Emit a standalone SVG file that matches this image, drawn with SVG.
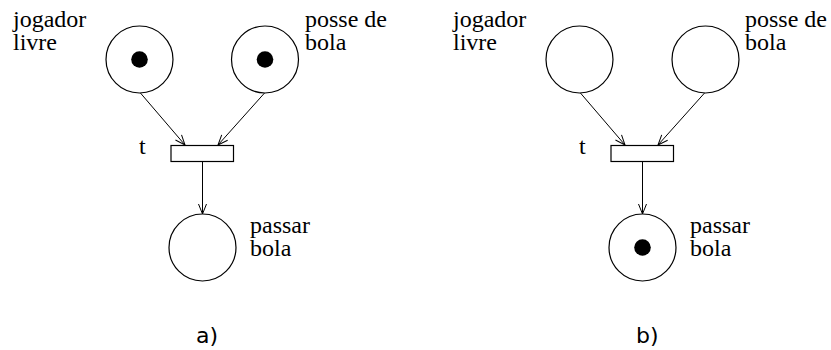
<svg xmlns="http://www.w3.org/2000/svg" width="831" height="350" viewBox="0 0 831 350">
<defs>
<marker id="arr" markerWidth="12" markerHeight="10" refX="11" refY="5" orient="auto" markerUnits="userSpaceOnUse">
<path d="M1,1 L11,5 L1,9" fill="none" stroke="#000" stroke-width="1"/>
</marker>
</defs>
<style>
.place{fill:#fff;stroke:#000;stroke-width:1.2}
.tok{fill:#000}
.tr{fill:#fff;stroke:#000;stroke-width:1.2}
.lbl{font-size:24px;fill:#000}
.cap{font-size:22px;fill:#000}
.arc{stroke:#000;stroke-width:1;fill:none;marker-end:url(#arr)}
</style>
<rect width="831" height="350" fill="#fff"/>
<g id="connectors">
<line class="arc" x1="140" y1="92.5" x2="185" y2="145"/>
<line class="arc" x1="265" y1="92.5" x2="218" y2="145"/>
<line class="arc" x1="202.5" y1="161" x2="202.5" y2="214"/>
<line class="arc" x1="580" y1="92.5" x2="625" y2="145"/>
<line class="arc" x1="705" y1="92.5" x2="658" y2="145"/>
<line class="arc" x1="642.5" y1="161" x2="642.5" y2="214"/>
</g>
<g font-family="'Liberation Serif', 'DejaVu Serif', serif">
<g id="a-jogador-livre">
<circle class="place" cx="139.5" cy="59.5" r="33.5"/>
<circle class="tok" cx="139.5" cy="59.5" r="8.3"/>
<text class="lbl" x="13" y="27">jogador</text>
<text class="lbl" x="13" y="50">livre</text>
</g>
<g id="a-posse-de-bola">
<circle class="place" cx="265" cy="59.5" r="33.5"/>
<circle class="tok" cx="265" cy="59.5" r="8.3"/>
<text class="lbl" x="305" y="27">posse de</text>
<text class="lbl" x="305" y="50">bola</text>
</g>
<g id="a-t">
<rect class="tr" x="171" y="145.5" width="62.5" height="16"/>
<text class="lbl" x="139" y="154">t</text>
</g>
<g id="a-passar-bola">
<circle class="place" cx="202.5" cy="247.5" r="33.5"/>
<text class="lbl" x="250" y="233">passar</text>
<text class="lbl" x="250" y="256">bola</text>
</g>
<g id="b-jogador-livre">
<circle class="place" cx="579.5" cy="59.5" r="33.5"/>
<text class="lbl" x="453" y="27">jogador</text>
<text class="lbl" x="453" y="50">livre</text>
</g>
<g id="b-posse-de-bola">
<circle class="place" cx="705.5" cy="59.5" r="33.5"/>
<text class="lbl" x="745" y="27">posse de</text>
<text class="lbl" x="745" y="50">bola</text>
</g>
<g id="b-t">
<rect class="tr" x="611" y="145.5" width="62.5" height="16"/>
<text class="lbl" x="579" y="154">t</text>
</g>
<g id="b-passar-bola">
<circle class="place" cx="642.5" cy="247.5" r="33.5"/>
<circle class="tok" cx="642.5" cy="247.5" r="8.3"/>
<text class="lbl" x="690" y="233">passar</text>
<text class="lbl" x="690" y="256">bola</text>
</g>
</g>
<g font-family="'DejaVu Sans', 'Liberation Sans', sans-serif">
<text class="cap" x="196" y="343">a)</text>
<text class="cap" x="636" y="343">b)</text>
</g>
</svg>
